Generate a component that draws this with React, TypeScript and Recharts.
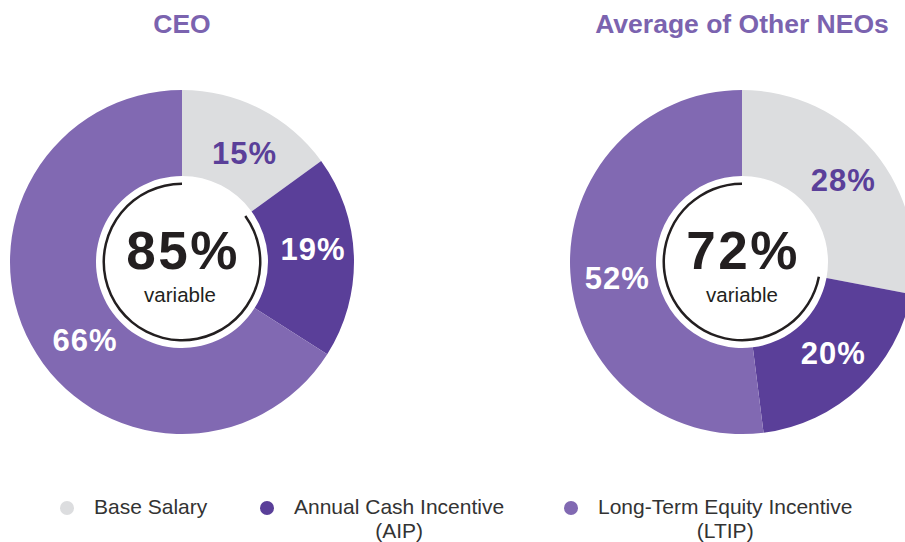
import React from 'react';
import { PieChart, Pie, Cell } from 'recharts';

const components = ['Base Salary', 'Annual Cash Incentive', 'Long-Term Equity Incentive'];
const legendSub = ['', '(AIP)', '(LTIP)'];
const colors = ['#DCDDDF', '#5A3F99', '#8169B2'];
const labelColors = ['#5A3F99', '#FFFFFF', '#FFFFFF'];

const ceoValues = [15, 19, 66];
const neoValues = [28, 20, 52];
const titles = ['CEO', 'Average of Other NEOs'];
const variableTotals = ['85%', '72%'];

const ceoData = components.map((name, i) => ({ name, value: ceoValues[i] }));
const neoData = components.map((name, i) => ({ name, value: neoValues[i] }));
const ringData = (vals: number[]) => [
  { name: 'fixed', value: vals[0] },
  { name: 'variable', value: vals[1] + vals[2] },
];

const W = 905;
const H = 542;
const CY = 262;
const CX = [182, 742];
const RAD = Math.PI / 180;
const FONT = '"Liberation Sans", Arial, Helvetica, sans-serif';
const LABEL_FS = 31;

// small visual nudges of label placement (layout styling, per chart / slice)
const labelNudge = [
  [[4, 6], [2, -9], [16, 16]],
  [[2, 0], [3, -3], [4, 8]],
];

const makeLabel = (chart: number) => (props: any) => {
  const { cx, cy, midAngle, innerRadius, outerRadius, value, index } = props;
  const r = (innerRadius + outerRadius) / 2;
  const [dx, dy] = labelNudge[chart][index];
  const x = cx + r * Math.cos(-midAngle * RAD) + dx;
  const y = cy + r * Math.sin(-midAngle * RAD) + dy;
  return (
    <text
      x={x}
      y={y + LABEL_FS * 0.358}
      fill={labelColors[index]}
      textAnchor="middle"
      fontFamily={FONT}
      fontWeight="bold"
      fontSize={LABEL_FS}
      letterSpacing={1}
    >
      {value}%
    </text>
  );
};

export default function App() {
  const datasets = [ceoData, neoData];
  const valuesets = [ceoValues, neoValues];
  const lefts = [60, 260, 564];
  return (
    <div style={{ position: 'absolute', left: 0, top: 0, width: W, height: H, background: '#fff', overflow: 'hidden' }}>
      <PieChart width={W} height={H} margin={{ top: 0, right: 0, bottom: 0, left: 0 }}>
        {datasets.map((d, k) => (
          <Pie
            key={'p' + k}
            data={d}
            dataKey="value"
            cx={CX[k]}
            cy={CY}
            innerRadius={86}
            outerRadius={172}
            startAngle={90}
            endAngle={-270}
            stroke="none"
            isAnimationActive={false}
            label={makeLabel(k)}
            labelLine={false}
          >
            {d.map((_, i) => (
              <Cell key={i} fill={colors[i]} />
            ))}
          </Pie>
        ))}
        {valuesets.map((v, k) => (
          <Pie
            key={'r' + k}
            data={ringData(v)}
            dataKey="value"
            cx={CX[k]}
            cy={CY}
            innerRadius={77}
            outerRadius={79.5}
            startAngle={90}
            endAngle={-270}
            stroke="none"
            isAnimationActive={false}
          >
            <Cell fill="transparent" />
            <Cell fill="#231F20" />
          </Pie>
        ))}
      </PieChart>
      <svg width={W} height={H} style={{ position: 'absolute', left: 0, top: 0, pointerEvents: 'none' }}>
        {titles.map((t, k) => (
          <text key={'t' + k} x={CX[k]} y={33} textAnchor="middle" fontFamily={FONT} fontWeight="bold" fontSize={26.5} fill="#7B63AF">
            {t}
          </text>
        ))}
        {variableTotals.map((t, k) => (
          <g key={'c' + k}>
            <text x={CX[k] + 1} y={269} textAnchor="middle" fontFamily={FONT} fontWeight="bold" fontSize={53} letterSpacing={2.5} fill="#231F20">
              {t}
            </text>
            <text x={CX[k] - (k === 0 ? 2 : 0)} y={302} textAnchor="middle" fontFamily={FONT} fontSize={20.5} fill="#231F20">
              variable
            </text>
          </g>
        ))}
      </svg>
      {components.map((c, i) => (
        <div key={'l' + i} style={{ position: 'absolute', left: lefts[i], top: 495, display: 'flex', alignItems: 'flex-start', fontFamily: FONT, fontSize: 21, color: '#333', lineHeight: '24px' }}>
          <span style={{ width: 14, height: 14, borderRadius: 7, background: colors[i], marginTop: 6, marginRight: 20 }} />
          <span style={{ textAlign: 'center' }}>
            {c}
            {legendSub[i] ? <><br />{legendSub[i]}</> : null}
          </span>
        </div>
      ))}
    </div>
  );
}
